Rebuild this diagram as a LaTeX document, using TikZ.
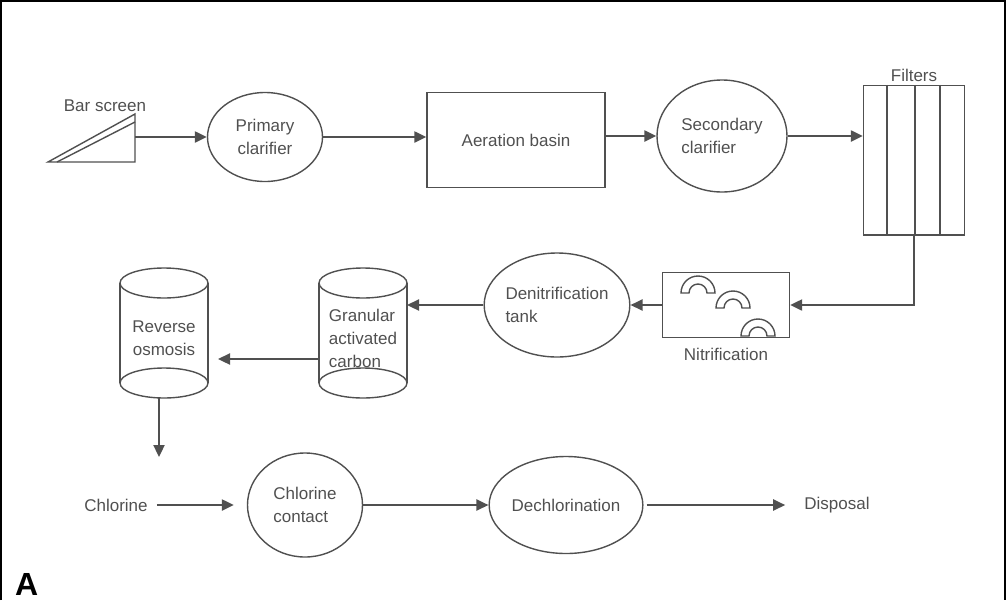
\documentclass[tikz,border=0pt]{standalone}
\usepackage{fontspec}
\setmainfont{Liberation Sans}
\usetikzlibrary{arrows.meta,shapes.geometric}

\definecolor{ink}{HTML}{505050}
\tikzset{
  outline/.style={draw=ink, line width=1.4pt},
  flow/.style={draw=ink, line width=2.3pt, ->},
  lbl/.style={text=ink, font=\fontsize{17}{23}\selectfont, align=center, inner sep=2pt},
  vessel/.style={lbl, outline, ellipse, inner sep=0pt},
  basin/.style={lbl, outline, rectangle, inner sep=0pt},
}
\newcommand{\drawtank}[1]{%
  \coordinate (#1-top) at ([yshift=55pt]#1.center);
  \coordinate (#1-bot) at ([yshift=-45pt]#1.center);
  \draw[outline] (#1-top) ellipse (44pt and 15pt);
  \draw[outline] (#1-bot) ellipse (44pt and 15pt);
  \draw[outline] ([xshift=-44pt]#1-top) -- ([xshift=-44pt]#1-bot);
  \draw[outline] ([xshift=44pt]#1-top) -- ([xshift=44pt]#1-bot);
  \coordinate (#1-w) at ([xshift=-44pt]#1.center);
  \coordinate (#1-e) at ([xshift=44pt]#1.center);
  \coordinate (#1-s) at ([yshift=-15pt]#1-bot);
}

\begin{document}
\begin{tikzpicture}[x=1pt, y=-1pt, >={Triangle[length=12pt,width=11pt]}]
  \useasboundingbox (0,0) rectangle (1006,600);
  \draw[line width=2pt] (1,600) -- (1,1) -- (1005,1) -- (1005,600);

  % top row
  \draw[outline] (48,162) -- (135,162) -- (135,114) -- cycle;
  \draw[outline] (57,162) -- (135,122);
  \node[lbl, anchor=base, inner sep=0pt] (barlbl) at (105,111) {Bar screen};
  \coordinate (bar) at (135,137);
  \node[vessel, minimum width=115pt, minimum height=89pt] (primary) at (265,137) {Primary\\clarifier};
  \node[basin, minimum width=178pt, minimum height=95pt] (aeration) at (516,140) {Aeration basin};
  \node[vessel, align=left, minimum width=130pt, minimum height=112pt] (secondary) at (722,136) {Secondary\\clarifier};
  \node[basin, minimum width=101pt, minimum height=149pt] (filters) at (914,160) {};
  \foreach \dx in {-27,1,26}
    \draw[outline] ([xshift=\dx pt]filters.north) -- ([xshift=\dx pt]filters.south);
  \draw[outline, line width=2.2pt] (filters.south west) -- (filters.south east);
  \node[lbl, above=1pt] (filterlbl) at (filters.north) {Filters};

  \draw[flow] (bar) -- (primary.west);
  \draw[flow] (primary.east) -- (primary.east -| aeration.west);
  \draw[flow] (aeration.east |- secondary.west) -- (secondary.west);
  \draw[flow] (secondary.east) -- (secondary.east -| filters.west);

  % middle row
  \node[basin, minimum width=127pt, minimum height=65pt] (nitri) at (726,305) {};
  \foreach \cx/\cy in {698/293, 733/308, 758/336}
    \draw[outline] (\cx,\cy) ++(-17pt,0pt) arc[start angle=180, end angle=0, radius=17pt]
      -- ++(-8pt,0pt) arc[start angle=0, end angle=180, radius=9pt] -- cycle;
  \node[lbl, below=8pt] (nitrilbl) at (nitri.south) {Nitrification};
  \node[vessel, align=left, minimum width=130pt, minimum height=104pt] (denit) at (557,305) {Denitrification\\tank};
  \node[lbl, align=left] (gac) at (363,338) {Granular\\activated\\carbon};
  \node[lbl] (ro) at (164,338) {Reverse\\osmosis};
  \drawtank{gac}
  \drawtank{ro}

  \draw[flow] (filters.south) |- (nitri.east);
  \draw[flow] (nitri.west) -- (nitri.west -| denit.east);
  \draw[flow] (denit.west) -- (denit.west -| gac-e);
  \draw[flow, shorten >=10pt] ([yshift=-21pt]gac-w) -- ([yshift=-21pt]ro-e);
  \coordinate (drop) at ([xshift=-5pt,yshift=-59pt]ro-s);
  \draw[flow] ([xshift=-5pt]ro-s) -- (drop);

  % bottom row
  \node[lbl] (chlorine) at (116,505) {Chlorine};
  \node[vessel, align=left, minimum width=115pt, minimum height=104pt] (contact) at (305,505) {Chlorine\\contact};
  \node[vessel, minimum width=144pt, minimum height=97pt] (dechlor) at (566,505) {Dechlorination};
  \node[lbl] (disposal) at (837,505) {Disposal};
  \draw[flow, shorten <=7pt, shorten >=13pt] (chlorine) -- (contact);
  \draw[flow] (contact.east) -- (dechlor.west);
  \draw[flow, shorten <=3pt, shorten >=17pt] (dechlor.east) -- (disposal.west);

  \node[font=\fontsize{32}{32}\selectfont\bfseries, anchor=base west, inner sep=0pt] (panel) at (15,595) {A};
\end{tikzpicture}
\end{document}
